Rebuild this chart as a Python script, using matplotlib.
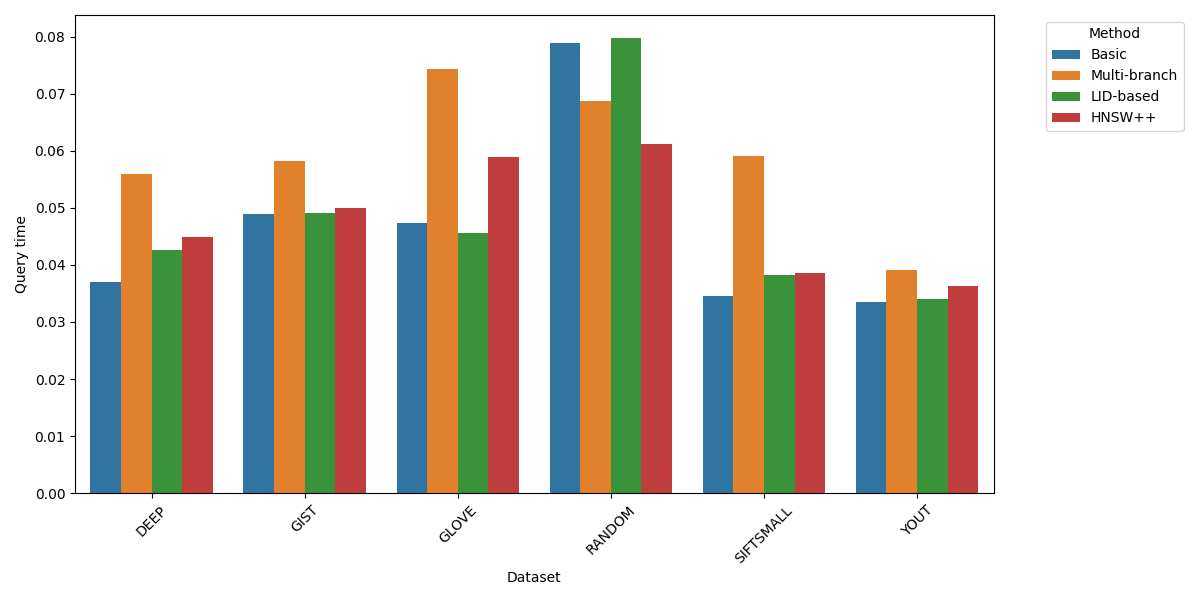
import matplotlib
matplotlib.use("Agg")
import matplotlib.pyplot as plt
import seaborn as sns
import pandas as pd

datasets = ["DEEP", "GIST", "GLOVE", "RANDOM", "SIFTSMALL", "YOUT"]
methods = ["Basic", "Multi-branch", "LID-based", "HNSW++"]
basic = [0.0370, 0.0489, 0.0474, 0.0788, 0.0346, 0.0335]
multi_branch = [0.0560, 0.0582, 0.0744, 0.0688, 0.0591, 0.0391]
lid_based = [0.0426, 0.0491, 0.0456, 0.0798, 0.0382, 0.0340]
hnsw_pp = [0.0449, 0.0500, 0.0589, 0.0612, 0.0386, 0.0363]

rows = []
for m, vals in zip(methods, [basic, multi_branch, lid_based, hnsw_pp]):
    for d, v in zip(datasets, vals):
        rows.append({"Dataset": d, "Method": m, "Query time": v})
df = pd.DataFrame(rows)

fig, ax = plt.subplots(figsize=(12, 6), dpi=100)
sns.barplot(data=df, x="Dataset", y="Query time", hue="Method", ax=ax)
ax.tick_params(axis="x", rotation=45)
ax.legend(title="Method", bbox_to_anchor=(1.05, 1), loc="upper left")
fig.subplots_adjust(left=0.0625, right=0.828, top=0.975, bottom=0.178)
fig.savefig("out.png")
